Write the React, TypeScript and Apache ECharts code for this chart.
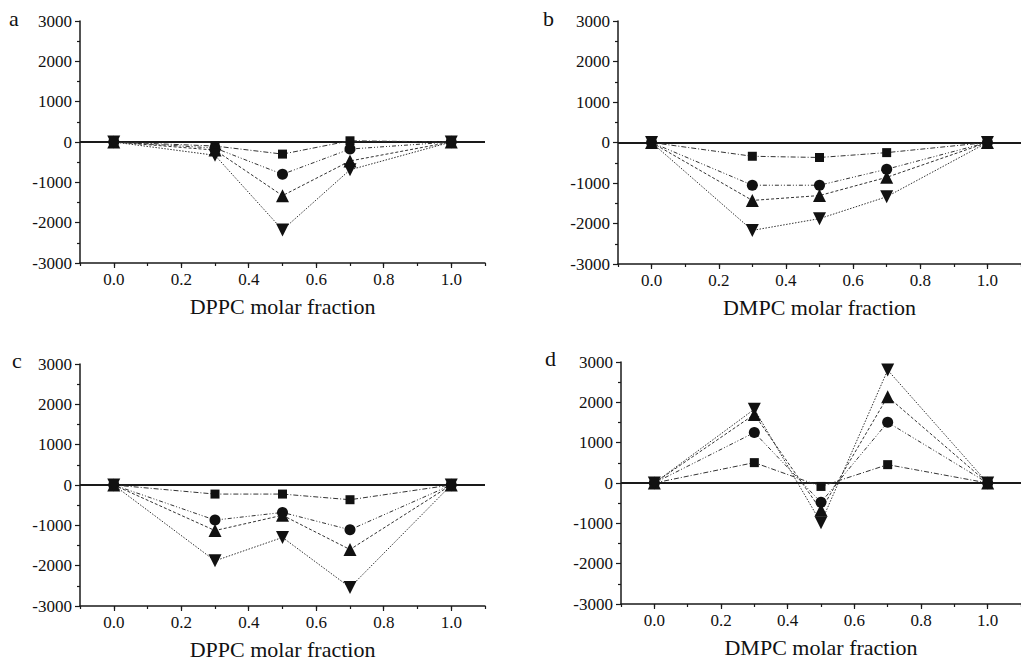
import React, { useEffect, useRef } from "react";
import * as echarts from "echarts";

const xValues = [0, 0.3, 0.5, 0.7, 1.0];

const aSquare = [0, -100, -300, 30, 0];
const aCircle = [0, -150, -800, -175, 0];
const aUp = [0, -200, -1330, -470, 0];
const aDown = [0, -330, -2180, -690, 0];

const bSquare = [0, -340, -370, -250, 0];
const bCircle = [0, -1055, -1055, -660, 0];
const bUp = [0, -1430, -1310, -860, 0];
const bDown = [0, -2170, -1880, -1340, 0];

const cSquare = [0, -225, -225, -365, 0];
const cCircle = [0, -870, -680, -1110, 0];
const cUp = [0, -1130, -750, -1600, 0];
const cDown = [0, -1880, -1300, -2540, 0];

const dSquare = [0, 505, -85, 455, 0];
const dCircle = [0, 1250, -480, 1505, 0];
const dUp = [0, 1700, -670, 2140, 0];
const dDown = [0, 1830, -985, 2800, 0];

const panelLetters = ["a", "b", "c", "d"];
const axisTitles = ["DPPC molar fraction", "DMPC molar fraction", "DPPC molar fraction", "DMPC molar fraction"];
const majorX = [0, 0.2, 0.4, 0.6, 0.8, 1.0];

const panels = [
  [aSquare, aCircle, aUp, aDown],
  [bSquare, bCircle, bUp, bDown],
  [cSquare, cCircle, cUp, cDown],
  [dSquare, dCircle, dUp, dDown],
];

const FONT = "Liberation Serif";

export default function App() {
  const ref = useRef<HTMLDivElement>(null);
  useEffect(() => {
    document.body.style.margin = "0";
    const chart = echarts.init(ref.current!, null, { renderer: "svg" });
    const grids = [
      { left: 80, top: 21, width: 405, height: 242 },
      { left: 618, top: 21, width: 405, height: 243 },
      { left: 80, top: 364, width: 405, height: 242 },
      { left: 621, top: 362, width: 405, height: 242 },
    ];
    const xAxis: any[] = [];
    const yAxis: any[] = [];
    const series: any[] = [];
    const symbols = [
      { symbol: "rect", size: 9, rotate: 0, dash: [5, 2, 1, 2] },
      { symbol: "circle", size: 11, rotate: 0, dash: [4, 2, 1, 2, 1, 2] },
      { symbol: "triangle", size: 13, rotate: 0, dash: [3, 2] },
      { symbol: "triangle", size: 13, rotate: 180, dash: [1.5, 1.5] },
    ];
    grids.forEach((g, i) => {
      xAxis.push({
        gridIndex: i,
        type: "value",
        min: -0.1,
        max: 1.1,
        interval: 0.1,
        position: "bottom",
        axisLine: { onZero: false, lineStyle: { color: "#1a1a1a", width: 1.5 } },
        axisTick: { customValues: majorX, length: 5, lineStyle: { color: "#1a1a1a", width: 1.2 } },
        axisLabel: {
          customValues: majorX,
          formatter: (v: number) => v.toFixed(1),
          fontFamily: FONT,
          fontSize: 17,
          color: "#111",
          margin: 8,
        },
        splitLine: { show: false },
        name: axisTitles[i],
        nameLocation: "middle",
        nameGap: 32,
        nameTextStyle: { fontFamily: FONT, fontSize: 22, color: "#111" },
      });
      xAxis.push({
        gridIndex: i,
        type: "value",
        min: -0.1,
        max: 1.1,
        interval: 0.1,
        position: "bottom",
        axisLine: { show: false, onZero: false },
        axisTick: { show: true, length: 3, lineStyle: { color: "#1a1a1a", width: 1.2 } },
        axisLabel: { show: false },
        splitLine: { show: false },
      });
      yAxis.push({
        gridIndex: i,
        type: "value",
        min: -3000,
        max: 3000,
        interval: 1000,
        axisLine: { show: true, onZero: false, lineStyle: { color: "#1a1a1a", width: 1.5 } },
        axisTick: { show: true, length: 5, lineStyle: { color: "#1a1a1a", width: 1.2 } },
        minorTick: { show: true, splitNumber: 2, length: 3, lineStyle: { color: "#1a1a1a", width: 1.2 } },
        axisLabel: {
          formatter: (v: number) => String(v),
          fontFamily: FONT,
          fontSize: 17,
          color: "#111",
          margin: 8,
        },
        splitLine: { show: false },
      });
      panels[i].forEach((vals, k) => {
        const s = symbols[k];
        const item: any = {
          type: "line",
          xAxisIndex: i * 2,
          yAxisIndex: i,
          data: xValues.map((x, j) => [x, vals[j]]),
          symbol: s.symbol,
          symbolSize: s.size,
          symbolRotate: s.rotate,
          showSymbol: true,
          itemStyle: { color: "#111" },
          lineStyle: { color: "#333", width: 1, type: s.dash },
          z: 3,
        };
        if (k === 0) {
          item.markLine = {
            silent: true,
            symbol: "none",
            label: { show: false },
            lineStyle: { color: "#1a1a1a", width: 1.8, type: "solid" },
            data: [{ yAxis: 0 }],
            z: 2,
          };
        }
        series.push(item);
      });
    });
    const letterPos = [
      { x: 9, y: 18.5 },
      { x: 543, y: 18.5 },
      { x: 12, y: 360.5 },
      { x: 545, y: 358 },
    ];
    const graphic = panelLetters.map((t, i) => ({
      type: "text",
      x: letterPos[i].x,
      y: letterPos[i].y,
      style: {
        text: t,
        fontFamily: FONT,
        fontSize: 22,
        fill: "#111",
        verticalAlign: "middle",
        align: "left",
      },
    }));
    chart.setOption({
      animation: false,
      backgroundColor: "#fff",
      grid: grids,
      xAxis,
      yAxis,
      series,
      graphic,
    });
    return () => chart.dispose();
  }, []);
  return <div ref={ref} style={{ width: 1021, height: 661 }} />;
}
